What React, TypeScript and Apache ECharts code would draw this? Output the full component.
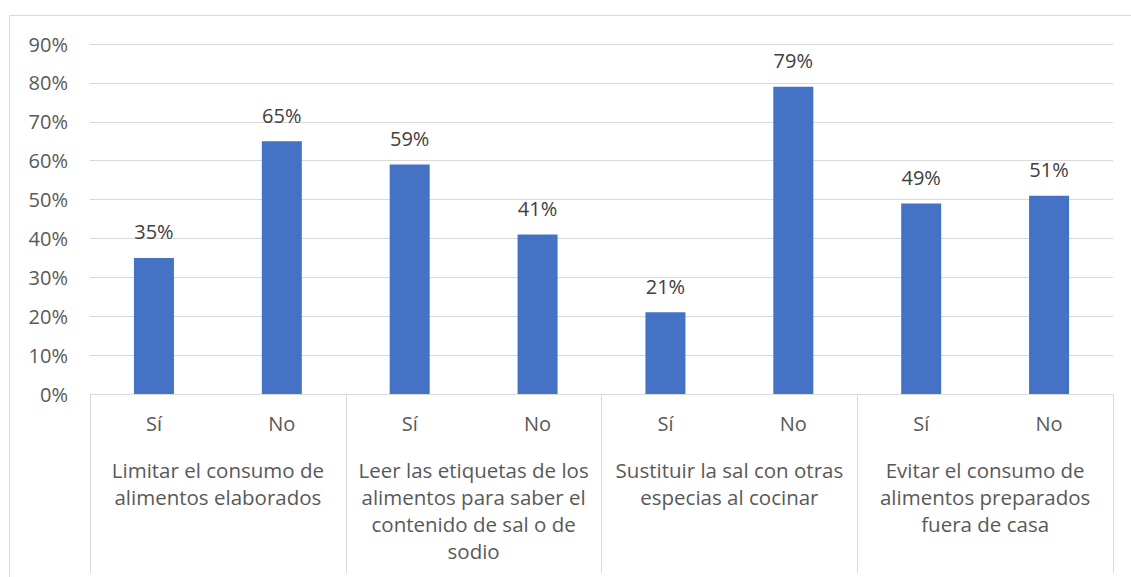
import React, { useEffect, useRef } from "react";
import * as echarts from "echarts";

const answers = ["Sí", "No", "Sí", "No", "Sí", "No", "Sí", "No"];
const groups = [
  "Limitar el consumo de\nalimentos elaborados",
  "Leer las etiquetas de los\nalimentos para saber el\ncontenido de sal o de\nsodio",
  "Sustituir la sal con otras\nespecias al cocinar",
  "Evitar el consumo de\nalimentos preparados\nfuera de casa",
];
const values = [35, 65, 59, 41, 21, 79, 49, 51];

export default function App() {
  const ref = useRef<HTMLDivElement>(null);
  useEffect(() => {
    const chart = echarts.init(ref.current!, undefined, { renderer: "svg" });
    const font = "'Open Sans', 'Noto Sans', sans-serif";
    chart.setOption({
      animation: false,
      backgroundColor: "#ffffff",
      textStyle: { fontFamily: font },
      graphic: [
        {
          type: "rect",
          shape: { x: 9.5, y: 15.5, width: 1140, height: 580 },
          style: { fill: "none", stroke: "#d9d9d9", lineWidth: 1 },
          silent: true,
        },
      ],
      grid: { left: 90, right: 18, top: 44, bottom: 183, containLabel: false },
      xAxis: [
        {
          type: "category",
          data: answers,
          position: "bottom",
          axisLine: { show: true, lineStyle: { color: "#d9d9d9", width: 1 } },
          axisTick: { show: false },
          axisLabel: { color: "#595959", fontSize: 20, margin: 19, interval: 0, fontFamily: font },
        },
        {
          type: "category",
          data: groups,
          position: "bottom",
          axisLine: { show: false },
          axisTick: { show: true, length: 179, interval: 0, lineStyle: { color: "#d9d9d9", width: 1 } },
          axisLabel: {
            color: "#595959",
            fontSize: 20.5,
            lineHeight: 27,
            margin: 62,
            interval: 0,
            verticalAlign: "top",
            fontFamily: font,
          },
        },
      ],
      yAxis: {
        type: "value",
        min: 0,
        max: 90,
        interval: 10,
        axisLine: { show: false },
        axisTick: { show: false },
        splitLine: { lineStyle: { color: "#d9d9d9", width: 1 } },
        axisLabel: {
          color: "#595959",
          fontSize: 20,
          margin: 22,
          formatter: (v: number) => v + "%",
          fontFamily: font,
        },
      },
      series: [
        {
          type: "bar",
          xAxisIndex: 0,
          data: values,
          barWidth: 40,
          itemStyle: { color: "#4472c4" },
          label: {
            show: true,
            position: "top",
            distance: 16,
            color: "#404040",
            fontSize: 20,
            formatter: (p: any) => p.value + "%",
            fontFamily: font,
          },
        },
      ],
    });
    return () => chart.dispose();
  }, []);
  return (
    <div
      ref={ref}
      style={{ position: "fixed", left: 0, top: 0, width: 1131, height: 577 }}
    />
  );
}
